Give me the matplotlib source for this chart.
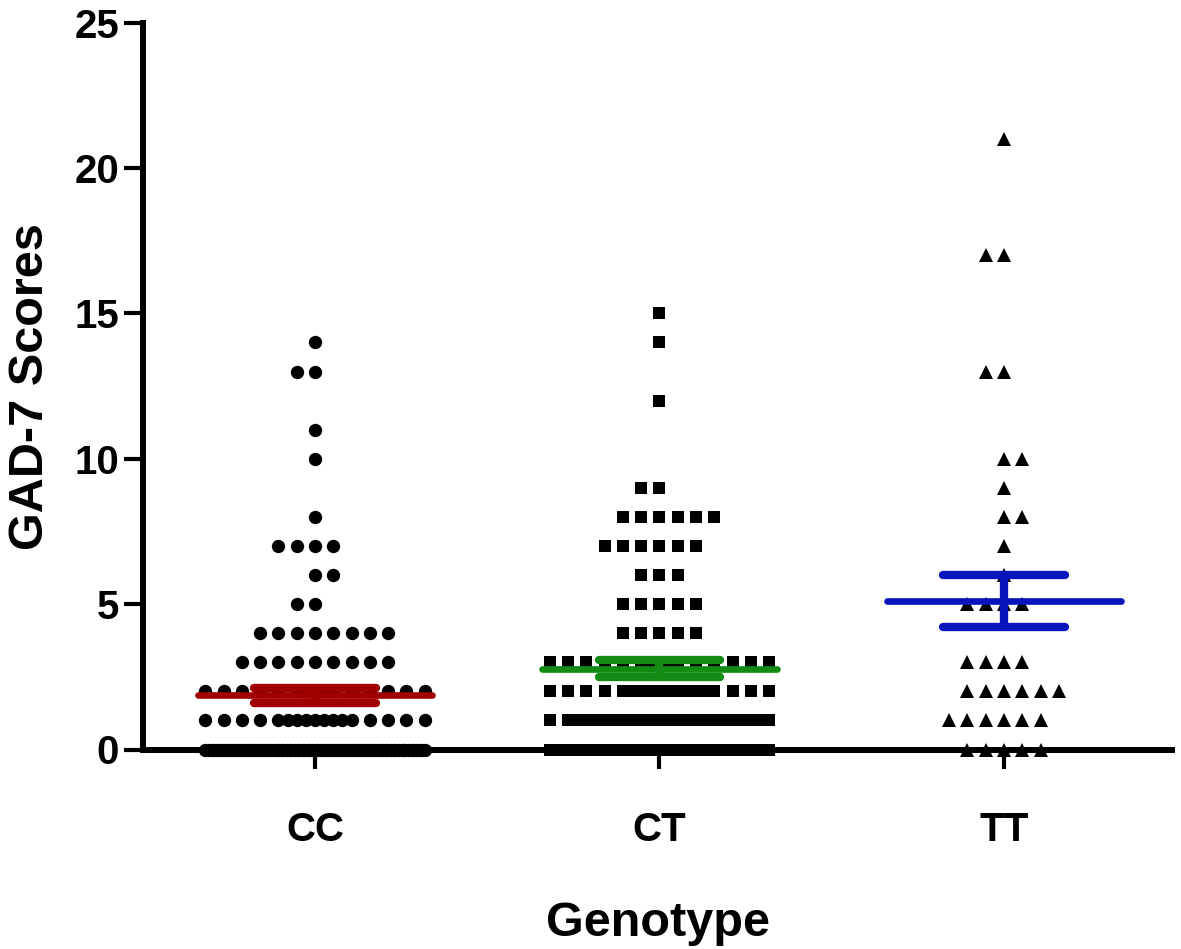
import numpy as np
import matplotlib
matplotlib.use("Agg")
import matplotlib.pyplot as plt

plt.rcParams['font.family'] = ['Liberation Sans', 'DejaVu Sans']
plt.rcParams['font.weight'] = 'bold'

# ---- data (score value -> number of participants) ----
genotypes = ["CC", "CT", "TT"]
cc_values = [0, 1, 2, 3, 4, 5, 6, 7, 8, 10, 11, 13, 14]
cc_counts = [58, 17, 15, 9, 8, 2, 2, 4, 1, 1, 1, 2, 1]
ct_values = [0, 1, 2, 3, 4, 5, 6, 7, 8, 9, 12, 14, 15]
ct_counts = [27, 24, 18, 15, 5, 5, 3, 6, 6, 2, 1, 1, 1]
tt_values = [0, 1, 2, 3, 5, 6, 7, 8, 9, 10, 13, 17, 21]
tt_counts = [5, 6, 6, 4, 4, 1, 1, 2, 1, 2, 2, 2, 1]
y_ticks = [0, 5, 10, 15, 20, 25]

groups = [(cc_values, cc_counts), (ct_values, ct_counts), (tt_values, tt_counts)]
markers = ['o', 's', '^']
msizes = [9.6, 9.0, 9.8]
line_colors = ['#a00000', '#138a13', '#0a14bc']

fig = plt.figure(figsize=(11.81, 9.49), dpi=100)
ax = fig.add_axes([143.3/1181, 1-749.5/949, (1172-143.3)/1181, (749.5-22.7)/949])

SPACING = 0.0531  # horizontal distance between neighbouring points (data units)


def row_offsets(n, value):
    if n <= 13:
        if n % 2:
            ks = np.arange(n) - (n - 1) / 2
        else:
            ks = np.arange(n) - n / 2 + (0 if value % 2 else 1)
        return np.asarray(ks, float)
    if n <= 25:
        base = list(range(-6, 7))
        halves = []
        for i in range(6):
            halves += [i + 0.5, -(i + 0.5)]
        return np.asarray(base + halves[:n - 13], float)
    return np.linspace(-6, 6, n)


for gi, (vals, cnts) in enumerate(groups):
    cx = gi + 1
    xs, ys = [], []
    for v, c in zip(vals, cnts):
        offs = row_offsets(c, v)
        xs.extend(cx + offs * SPACING)
        ys.extend([v] * c)
    ax.plot(xs, ys, linestyle='none', marker=markers[gi], ms=msizes[gi],
            color='black', markeredgewidth=0, clip_on=False, zorder=3)

    data = np.repeat(vals, cnts).astype(float)
    m = data.mean()
    sem = data.std(ddof=1) / np.sqrt(len(data))
    col = line_colors[gi]
    ax.plot([cx - 0.34, cx + 0.34], [m, m], color=col, lw=4.8,
            solid_capstyle='round', zorder=4, clip_on=False)
    for yy in (m - sem, m + sem):
        ax.plot([cx - 0.177, cx + 0.177], [yy, yy], color=col, lw=6,
                solid_capstyle='round', zorder=4, clip_on=False)
    ax.plot([cx, cx], [m - sem, m + sem], color=col, lw=6,
            solid_capstyle='butt', zorder=4, clip_on=False)

ax.set_xlim(0.5016, 3.4877)
ax.set_ylim(0, 25)
ax.set_yticks(y_ticks)
ax.set_yticklabels([str(t) for t in y_ticks], fontsize=29, fontweight='bold')
ax.set_xticks([1, 2, 3])
ax.set_xticklabels(genotypes, fontsize=29, fontweight='bold')

for s in ('top', 'right'):
    ax.spines[s].set_visible(False)
for s in ('left', 'bottom'):
    ax.spines[s].set_linewidth(4.3)
    ax.spines[s].set_zorder(2)

ax.tick_params(axis='y', direction='out', length=13.5, width=3, pad=4)
ax.tick_params(axis='x', direction='out', length=13.5, width=3, pad=31)

ax.set_xlabel("Genotype", fontsize=35, fontweight='bold')
ax.xaxis.set_label_coords(0.5, -0.208)
ax.set_ylabel("GAD-7 Scores", fontsize=35, fontweight='bold')
ax.yaxis.set_label_coords(-0.088, 0.5)

fig.savefig("out.png", dpi=100)
